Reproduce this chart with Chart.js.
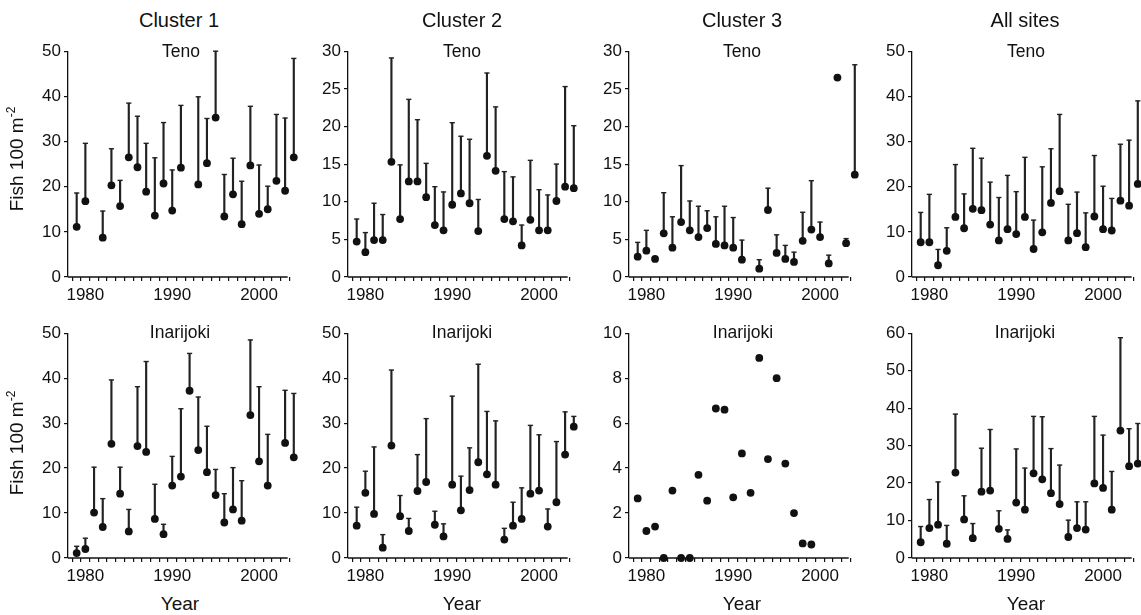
<!DOCTYPE html>
<html lang="en">
<head>
<meta charset="UTF-8">
<title>Fish 100 m-2 by year</title>
<script src="https://cdn.jsdelivr.net/npm/chart.js"></script>
<style>
  body { margin: 0; width: 1141px; height: 615px; overflow: hidden; background: #fff; position: relative;
         font-family: 'Liberation Sans', Arial, sans-serif; color: #111; }
  canvas { position: absolute; }
  .lbl { position: absolute; transform: translate(-50%, -50%); white-space: nowrap; line-height: 1; z-index: 2; }
  .col { font-size: 20px; }
  .sub { font-size: 17.5px; }
  .ax { font-size: 19px; }
  .ylab { transform: translate(-50%, -50%) rotate(-90deg); }
  .ylab sup { font-size: 12px; line-height: 0; }
</style>
</head>
<body>
<div class="lbl col" style="left:179px;top:20px">Cluster 1</div>
<div class="lbl col" style="left:462px;top:20px">Cluster 2</div>
<div class="lbl col" style="left:742px;top:20px">Cluster 3</div>
<div class="lbl col" style="left:1025px;top:20px">All sites</div>

<div class="lbl sub" style="left:181px;top:52px">Teno</div>
<div class="lbl sub" style="left:462px;top:52px">Teno</div>
<div class="lbl sub" style="left:742px;top:52px">Teno</div>
<div class="lbl sub" style="left:1026px;top:52px">Teno</div>
<div class="lbl sub" style="left:180px;top:333px">Inarijoki</div>
<div class="lbl sub" style="left:462px;top:333px">Inarijoki</div>
<div class="lbl sub" style="left:743px;top:333px">Inarijoki</div>
<div class="lbl sub" style="left:1025px;top:333px">Inarijoki</div>

<div class="lbl ax" style="left:180px;top:603px">Year</div>
<div class="lbl ax" style="left:462px;top:603px">Year</div>
<div class="lbl ax" style="left:742px;top:603px">Year</div>
<div class="lbl ax" style="left:1026px;top:603px">Year</div>

<div class="lbl ax ylab" style="left:16px;top:159px">Fish 100 m<sup>-2</sup></div>
<div class="lbl ax ylab" style="left:16px;top:443px">Fish 100 m<sup>-2</sup></div>

<script>
  // survey years, one entry per year 1979-2004 (null = no sampling)
  var years = [1979, 1980, 1981, 1982, 1983, 1984, 1985, 1986, 1987, 1988, 1989, 1990, 1991,
               1992, 1993, 1994, 1995, 1996, 1997, 1998, 1999, 2000, 2001, 2002, 2003, 2004];

  // Cluster 1
  var c1TenoMean = [11.1, 16.8, null, 8.7, 20.3, 15.7, 26.5, 24.3, 18.9, 13.6, 20.7, 14.7, 24.2,
                    null, 20.5, 25.2, 35.3, 13.4, 18.3, 11.7, 24.7, 14.0, 15.0, 21.3, 19.1, 26.5];
  var c1TenoUp = [18.6, 29.6, null, 14.6, 28.4, 21.4, 38.5, 35.6, 29.6, 26.4, 34.2, 23.7, 38.0,
                  null, 39.9, 35.1, 50.0, 22.7, 26.3, 21.2, 37.8, 24.8, 20.1, 36.0, 35.2, 48.4];
  var c1InariMean = [1.1, 2.0, 10.1, 6.9, 25.4, 14.3, 5.9, 24.9, 23.6, 8.7, 5.3, 16.1, 18.1,
                     37.2, 24.0, 19.1, 14.0, 7.9, 10.8, 8.3, 31.8, 21.5, 16.1, null, 25.6, 22.4];
  var c1InariUp = [2.6, 4.4, 20.2, 13.2, 39.6, 20.2, 10.8, 38.1, 43.7, 16.4, 7.5, 22.6, 33.2,
                   45.5, 35.8, 29.3, 19.7, 14.3, 20.1, 17.2, 48.5, 38.1, 27.5, null, 37.3, 36.6];

  // Cluster 2
  var c2TenoMean = [4.7, 3.3, 4.9, 4.9, 15.3, 7.7, 12.7, 12.7, 10.6, 6.9, 6.2, 9.6, 11.1,
                    9.8, 6.1, 16.1, 14.1, 7.7, 7.4, 4.2, 7.6, 6.2, 6.2, 10.1, 12.0, 11.8];
  var c2TenoUp = [7.7, 5.9, 9.8, 8.3, 29.1, 14.9, 23.6, 20.9, 15.1, 12.0, 11.3, 20.5, 18.7,
                  18.3, 10.3, 27.1, 22.6, 14.0, 13.3, 6.9, 15.5, 11.6, 10.9, 15.0, 25.3, 20.1];
  var c2InariMean = [7.2, 14.5, 9.8, 2.3, 25.0, 9.3, 6.0, 14.9, 16.9, 7.4, 4.8, 16.3, 10.6,
                     15.1, 21.3, 18.6, 16.3, 4.1, 7.2, 8.7, 14.3, 15.0, 7.0, 12.4, 23.0, 29.2];
  var c2InariUp = [11.3, 19.3, 24.7, 5.2, 41.8, 13.9, 8.8, 23.0, 31.0, 10.4, 7.6, 36.0, 18.2,
                   24.5, 43.1, 32.6, 30.5, 6.6, 12.4, 15.6, 29.5, 27.4, 10.9, 25.9, 32.5, 31.5];

  // Cluster 3
  var c3TenoMean = [2.7, 3.5, 2.4, 5.8, 3.9, 7.3, 6.2, 5.3, 6.5, 4.4, 4.2, 3.9, 2.3,
                    null, 1.1, 8.9, 3.2, 2.4, 2.0, 4.8, 6.3, 5.3, 1.8, 26.5, 4.5, 13.6];
  var c3TenoUp = [4.6, 6.2, null, 11.2, 8.0, 14.8, 10.1, 9.4, 8.8, 8.0, 9.4, 7.9, 4.9,
                  null, 2.3, 11.8, 5.6, 4.2, 3.3, 8.6, 12.8, 7.3, 2.9, null, 5.1, 28.2];
  var c3InariMean = [2.65, 1.2, 1.4, 0, 3.0, 0, 0, 3.7, 2.55, 6.65, 6.6, 2.7, 4.65,
                     2.9, 8.9, 4.4, 8.0, 4.2, 2.0, 0.65, 0.6, null, null, null, null, null];

  // All sites
  var allTenoMean = [7.7, 7.7, 2.6, 5.8, 13.3, 10.8, 15.1, 14.8, 11.6, 8.1, 10.6, 9.5, 13.3,
                     6.2, 9.9, 16.4, 19.0, 8.1, 9.7, 6.6, 13.4, 10.6, 10.3, 16.9, 15.8, 20.6];
  var allTenoUp = [14.3, 18.3, 6.1, 10.9, 24.9, 18.4, 28.5, 26.3, 21.0, 17.6, 22.5, 18.9, 26.5,
                   12.6, 24.4, 28.4, 36.0, 16.1, 18.8, 14.2, 26.9, 20.1, 17.4, 29.4, 30.3, 39.0];
  var allInariMean = [4.2, 8.0, 8.9, 3.8, 22.8, 10.3, 5.3, 17.7, 18.0, 7.8, 5.1, 14.8, 12.9,
                      22.6, 21.0, 17.3, 14.4, 5.6, 8.0, 7.6, 19.9, 18.7, 12.9, 34.0, 24.5, 25.2];
  var allInariUp = [8.4, 15.6, 20.3, 8.7, 38.4, 16.6, 9.2, 29.3, 34.3, 12.6, 7.5, 29.1, 24.0,
                    37.8, 37.7, 29.2, 24.8, 10.1, 15.0, 15.0, 37.8, 32.8, 23.1, 58.8, 34.5, 35.9];

  // y axis maxima / steps per panel
  var yMaxTop = [50, 30, 30, 50];
  var yStepTop = [10, 5, 5, 10];
  var yMaxBottom = [50, 50, 10, 60];
  var yStepBottom = [10, 10, 2, 10];

  // x axis: the drawn axis stops a little after 2003, the 2004 marks hang past it
  var X_MIN = 1978, X_AXIS_END = 2003.3, X_MAX = 2004.6;

  var INK = '#111';
  var FONT = "'Liberation Sans', Arial, sans-serif";
  var PX_PER_YEAR = 8.7;
  var PLOT_W = Math.round((X_MAX - X_MIN) * PX_PER_YEAR);

  var panels = [
    { mean: c1TenoMean, upper: c1TenoUp, yMax: yMaxTop[0], yStep: yStepTop[0], left: 68, top: 50, h: 227 },
    { mean: c2TenoMean, upper: c2TenoUp, yMax: yMaxTop[1], yStep: yStepTop[1], left: 348, top: 50, h: 227 },
    { mean: c3TenoMean, upper: c3TenoUp, yMax: yMaxTop[2], yStep: yStepTop[2], left: 629, top: 50, h: 227 },
    { mean: allTenoMean, upper: allTenoUp, yMax: yMaxTop[3], yStep: yStepTop[3], left: 912, top: 50, h: 227 },
    { mean: c1InariMean, upper: c1InariUp, yMax: yMaxBottom[0], yStep: yStepBottom[0], left: 68, top: 332, h: 226 },
    { mean: c2InariMean, upper: c2InariUp, yMax: yMaxBottom[1], yStep: yStepBottom[1], left: 348, top: 332, h: 226 },
    { mean: c3InariMean, upper: null, yMax: yMaxBottom[2], yStep: yStepBottom[2], left: 629, top: 332, h: 226 },
    { mean: allInariMean, upper: allInariUp, yMax: yMaxBottom[3], yStep: yStepBottom[3], left: 912, top: 332, h: 226 }
  ];

  Chart.defaults.font.family = FONT;
  Chart.defaults.color = INK;

  panels.forEach(function (p) {
    var canvas = document.createElement('canvas');
    canvas.width = 50 + PLOT_W + 6;
    canvas.height = 12 + p.h + 34;
    canvas.style.left = (p.left - 50) + 'px';
    canvas.style.top = (p.top - 12) + 'px';
    document.body.appendChild(canvas);

    var points = [], stems = [], caps = [];
    years.forEach(function (yr, i) {
      if (p.mean[i] === null) return;
      points.push({ x: yr, y: p.mean[i] });
      if (p.upper && p.upper[i] !== null) {
        stems.push({ x: yr, y: [p.mean[i], p.upper[i]] });
        caps.push({ x: yr, y: p.upper[i] });
      }
    });

    new Chart(canvas, {
      type: 'scatter',
      data: {
        datasets: [
          { data: points, pointRadius: 3.9, backgroundColor: INK, borderWidth: 0, clip: false },
          { type: 'bar', data: stems, barThickness: 1.5, backgroundColor: '#222', borderWidth: 0, clip: false },
          { data: caps, pointStyle: 'line', pointRadius: 2.6, borderColor: '#222', borderWidth: 1.4, clip: false },
          // x axis line, ends short of the plot's right edge like the original
          { type: 'line', data: [{ x: X_MIN, y: 0 }, { x: X_AXIS_END, y: 0 }], borderColor: INK,
            borderWidth: 1.3, pointRadius: 0, clip: false }
        ]
      },
      options: {
        responsive: false,
        animation: false,
        events: [],
        layout: { padding: { left: 0, top: 12, right: 6, bottom: 0 } },
        plugins: { legend: { display: false }, tooltip: { enabled: false } },
        scales: {
          x: {
            type: 'linear', min: X_MIN, max: X_MAX, offset: false,
            afterBuildTicks: function (s) {
              var t = [];
              for (var v = X_MIN; v <= X_AXIS_END; v++) t.push({ value: v });
              s.ticks = t;
            },
            afterFit: function (s) { s.height = 34; },
            ticks: {
              autoSkip: false, maxRotation: 0, padding: 4, font: { size: 17 }, color: INK,
              callback: function (v) { return v % 10 === 0 ? String(v) : ''; }
            },
            grid: { drawOnChartArea: false, tickLength: 4, color: INK, lineWidth: 1.2 },
            border: { display: false }
          },
          y: {
            min: 0, max: p.yMax,
            afterFit: function (s) { s.width = 50; },
            ticks: { stepSize: p.yStep, padding: 3, font: { size: 17 }, color: INK },
            grid: { drawOnChartArea: false, tickLength: 4, color: INK, lineWidth: 1.2 },
            border: { color: INK, width: 1.3 }
          }
        }
      }
    });
  });
</script>
</body>
</html>
